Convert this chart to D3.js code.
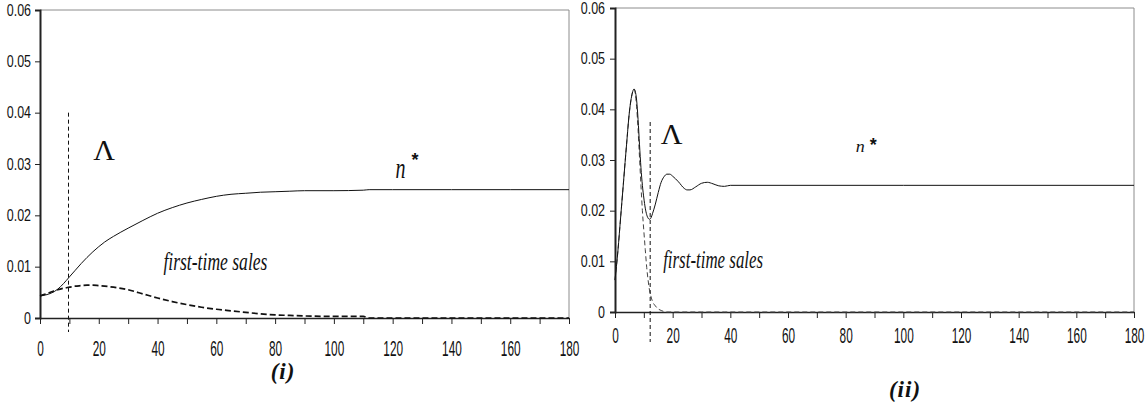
<!DOCTYPE html>
<html>
<head>
<meta charset="utf-8">
<script src="https://cdn.jsdelivr.net/npm/d3@7"></script>
<style>
  html, body { margin: 0; padding: 0; background: #fff; }
  svg { display: block; }
</style>
</head>
<body>
<svg id="chart" width="1148" height="404"></svg>
<script>
// ---------------- data ----------------
const yTicks = [0, 0.01, 0.02, 0.03, 0.04, 0.05, 0.06];
const xTicks = [0, 10, 20, 30, 40, 50, 60, 70, 80, 90, 100, 110, 120, 130, 140, 150, 160, 170, 180];
const xTickLabels = [0, 20, 40, 60, 80, 100, 120, 140, 160, 180];

// panel (i)
const leftTimes = [0, 2, 4, 6, 8, 10, 12, 14, 16, 18, 20, 22, 25, 30, 35, 40, 45, 50, 55, 60, 65, 70, 75, 80, 85, 90, 100, 110, 112, 120, 140, 160, 180];
const leftN     = [0.0043, 0.0045, 0.0049, 0.0056, 0.0067, 0.0080, 0.0093, 0.0106, 0.0118, 0.0129, 0.0139, 0.0148, 0.0159, 0.0175, 0.0190, 0.0204, 0.0215, 0.0224, 0.0231, 0.0237, 0.0241, 0.0243, 0.0245, 0.0246, 0.0247, 0.0248, 0.0248, 0.0249, 0.0250, 0.0250, 0.0250, 0.0250, 0.0250];
const leftFirst = [0.0043, 0.0047, 0.0051, 0.0055, 0.0058, 0.0060, 0.0062, 0.0063, 0.0064, 0.0064, 0.0063, 0.0062, 0.0060, 0.0055, 0.0047, 0.0039, 0.0032, 0.0026, 0.0021, 0.0017, 0.0014, 0.0011, 0.0008, 0.0006, 0.0005, 0.0004, 0.0003, 0.0003, 0, 0, 0, 0, 0];
const leftLambda = 9.7;
const leftLambdaTop = 0.04;

// panel (ii)
const rightTimes = [0, 1, 2, 3, 4, 5, 6, 6.6, 7, 7.5, 8, 8.5, 9, 9.5, 10, 10.5, 11, 11.5, 12, 12.5, 13, 14, 15, 16, 17, 18, 19, 20, 22, 24, 25, 26, 28, 30, 32, 34, 36, 38, 40, 60, 100, 180];
const rightN     = [0.0063, 0.012, 0.019, 0.026, 0.033, 0.0395, 0.0432, 0.0440, 0.0436, 0.0418, 0.0380, 0.0330, 0.0285, 0.0250, 0.0225, 0.0205, 0.0192, 0.0185, 0.0183, 0.0186, 0.0194, 0.0213, 0.0236, 0.0256, 0.0267, 0.0272, 0.0272, 0.0268, 0.0257, 0.0244, 0.0241, 0.0241, 0.0247, 0.0254, 0.0256, 0.0253, 0.0249, 0.0248, 0.0250, 0.0250, 0.0250, 0.0250];
const rightFirst = [0.0063, 0.012, 0.019, 0.026, 0.033, 0.0395, 0.0432, 0.0440, 0.0432, 0.0405, 0.0360, 0.0305, 0.0250, 0.0200, 0.0160, 0.0123, 0.0088, 0.0062, 0.0042, 0.0030, 0.0021, 0.0012, 0.0006, 0.0003, 0.0001, 0, 0, 0, 0, 0, 0, 0, 0, 0, 0, 0, 0, 0, 0, 0, 0, 0];
const rightLambda = 12.2;
const rightLambdaTop = 0.0375;

// ---------------- drawing ----------------
const svg = d3.select("#chart");

function drawPanel(cfg) {
  const x = d3.scaleLinear().domain([0, 180]).range([cfg.x0, cfg.x1]);
  const y = d3.scaleLinear().domain([0, 0.06]).range([cfg.y0, cfg.y1]);
  const g = svg.append("g");

  // gray frame (top and right)
  g.append("line").attr("x1", x(0)).attr("x2", x(180)).attr("y1", y(0.06)).attr("y2", y(0.06))
    .attr("stroke", "#8c8c8c").attr("stroke-width", 1);
  g.append("line").attr("x1", x(180)).attr("x2", x(180)).attr("y1", y(0.06)).attr("y2", y(0))
    .attr("stroke", "#8c8c8c").attr("stroke-width", 1);

  // y axis
  const ya = g.append("g").attr("transform", `translate(${x(0)},0)`)
    .call(d3.axisLeft(y).tickValues(yTicks).tickSize(5).tickPadding(cfg.yPad)
      .tickFormat(d => d === 0 ? "0" : d3.format(".2f")(d)));
  ya.select(".domain").attr("stroke", "#222").attr("stroke-width", 2);
  ya.selectAll(".tick line").attr("stroke", "#222");
  const sxY = 0.78;
  ya.selectAll("text")
    .attr("font-family", "Liberation Sans, Arial, sans-serif")
    .attr("font-size", 16).attr("fill", "#111")
    .attr("transform", `scale(${sxY},1)`)
    .attr("x", -(5 + cfg.yPad) / sxY);

  // x axis
  const xa = g.append("g").attr("transform", `translate(0,${y(0)})`)
    .call(d3.axisBottom(x).tickValues(xTicks).tickSize(6).tickSizeOuter(0)
      .tickFormat(d => xTickLabels.includes(d) ? String(d) : ""));
  xa.select(".domain").attr("stroke", "#222").attr("stroke-width", 1.5);
  xa.selectAll(".tick line").attr("stroke", "#222");
  const sx = 0.74, sy = 1.35;
  xa.selectAll("text")
    .attr("font-family", "Liberation Sans, Arial, sans-serif")
    .attr("font-size", 16).attr("fill", "#111")
    .attr("transform", `scale(${sx},${sy})`)
    .attr("y", cfg.xLabOff / sy).attr("dy", "0.35em");

  // series
  const lineGen = d3.line().x(d => x(d[0])).y(d => y(d[1])).curve(d3.curveMonotoneX);
  const firstData = cfg.times.map((t, i) => [t, cfg.first[i]]);
  const nData = cfg.times.map((t, i) => [t, cfg.n[i]]);

  g.append("path").datum(firstData).attr("d", lineGen)
    .attr("fill", "none").attr("stroke", cfg.firstColor).attr("stroke-width", cfg.firstWidth)
    .attr("stroke-dasharray", cfg.firstDash);
  g.append("path").datum(nData).attr("d", lineGen)
    .attr("fill", "none").attr("stroke", "#111").attr("stroke-width", 1);

  // Lambda vertical dashed line
  g.append("line").attr("x1", x(cfg.lambda)).attr("x2", x(cfg.lambda))
    .attr("y1", y(cfg.lambdaTop)).attr("y2", y(0) + cfg.lambdaBelow)
    .attr("stroke", "#111").attr("stroke-width", 1).attr("stroke-dasharray", "4,3");

  // annotations
  g.append("text").attr("x", x(cfg.lamLabel[0])).attr("y", y(cfg.lamLabel[1]))
    .attr("text-anchor", "middle").attr("font-family", "Liberation Serif, Times New Roman, serif")
    .attr("font-size", 30).attr("fill", "#111").text("Λ");

  g.append("text").attr("x", x(cfg.nLabel[0])).attr("y", y(cfg.nLabel[1]))
    .attr("font-family", "Liberation Serif, Times New Roman, serif").attr("font-style", "italic")
    .attr("font-size", cfg.nSize).attr("fill", "#111")
    .attr("textLength", cfg.nWidth).attr("lengthAdjust", "spacingAndGlyphs").text("n");
  g.append("text").attr("x", x(cfg.starLabel[0])).attr("y", y(cfg.starLabel[1]))
    .attr("text-anchor", "middle").attr("dy", "0.75em")
    .attr("font-family", "Liberation Sans, Arial, sans-serif").attr("font-weight", "bold")
    .attr("font-size", cfg.starSize).attr("fill", "#111").text("*");

  g.append("text").attr("x", x(cfg.ftLabel[0])).attr("y", y(cfg.ftLabel[1]))
    .attr("font-family", "Liberation Serif, Times New Roman, serif").attr("font-style", "italic")
    .attr("font-size", 25).attr("fill", "#111")
    .attr("textLength", cfg.ftWidth).attr("lengthAdjust", "spacingAndGlyphs").text("first-time sales");

  // caption
  svg.append("text").attr("x", cfg.capX).attr("y", cfg.capY).attr("text-anchor", "middle")
    .attr("font-family", "Liberation Serif, Times New Roman, serif").attr("font-style", "italic")
    .attr("font-weight", "bold").attr("font-size", 23).attr("letter-spacing", 1)
    .attr("fill", "#111").text(cfg.caption);
}

drawPanel({
  x0: 40, x1: 569, y0: 318, y1: 10, yPad: 4, xLabOff: 30,
  times: leftTimes, n: leftN, first: leftFirst,
  firstColor: "#111", firstWidth: 1.7, firstDash: "6,3",
  lambda: leftLambda, lambdaTop: leftLambdaTop, lambdaBelow: 14,
  lamLabel: [21.8, 0.0308],
  nLabel: [121.0, 0.0273], nSize: 30, nWidth: 10,
  starLabel: [127.6, 0.0322], starSize: 18,
  ftLabel: [42, 0.0094], ftWidth: 104,
  capX: 283, capY: 379, caption: "(i)"
});

drawPanel({
  x0: 615, x1: 1134, y0: 312, y1: 8, yPad: 5, xLabOff: 23,
  times: rightTimes, n: rightN, first: rightFirst,
  firstColor: "#444", firstWidth: 1, firstDash: "5,3",
  lambda: rightLambda, lambdaTop: rightLambdaTop, lambdaBelow: 30,
  lamLabel: [19.6, 0.0332],
  nLabel: [83.5, 0.0316], nSize: 17, nWidth: 9,
  starLabel: [89.6, 0.0345], starSize: 18,
  ftLabel: [16.7, 0.0087], ftWidth: 100,
  capX: 905, capY: 397, caption: "(ii)"
});
</script>
</body>
</html>
